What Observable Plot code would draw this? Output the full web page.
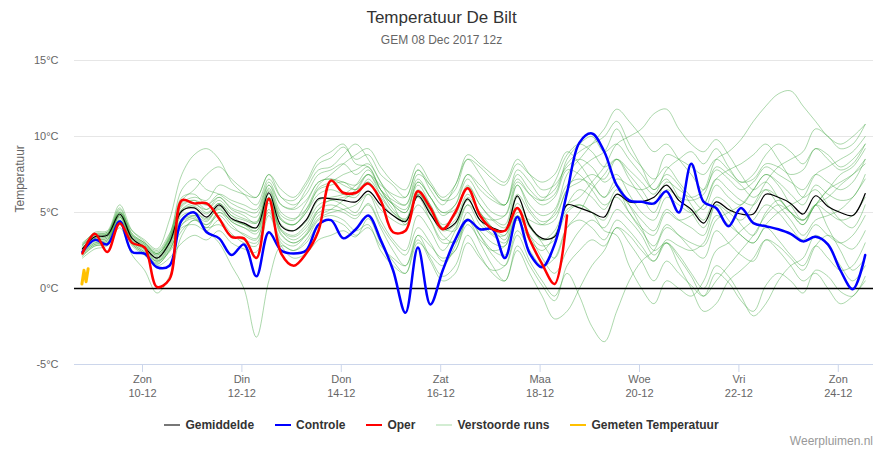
<!DOCTYPE html>
<html><head><meta charset="utf-8">
<script src="https://cdn.jsdelivr.net/npm/d3@7"></script>
<script src="https://cdn.jsdelivr.net/npm/@observablehq/plot@0.6"></script>
<style>
body{margin:0;background:#fff;font-family:"Liberation Sans",Arial,sans-serif;}
#wrap{position:relative;width:883px;height:450px;overflow:hidden;background:#fff}
#chart{position:absolute;top:0;left:0}
#title{position:absolute;top:8px;left:0;width:883px;text-align:center;font-size:17px;color:#333}
#sub{position:absolute;top:33px;left:0;width:883px;text-align:center;font-size:12px;color:#666}
#legend{position:absolute;top:418px;left:0;width:883px;display:flex;justify-content:center;gap:21px;font-size:12px;font-weight:bold;color:#333}
.item{display:flex;align-items:center}
.sw{width:16px;height:2px;margin-right:5px}
#credit{position:absolute;right:10px;top:434px;font-size:12px;color:#999}
</style>
</head><body>
<div id="wrap">
  <div id="chart"></div>
  <div id="title">Temperatuur De Bilt</div>
  <div id="sub">GEM 08 Dec 2017 12z</div>
  <div id="legend"></div>
  <div id="credit">Weerpluimen.nl</div>
</div>
<script>
// ---------- data ----------
const runStart = "2017-12-08T19:00:00Z"; // first forecast step (local time, shown as UTC)
const stepHours = 6;
const xDomain = ["2017-12-08T15:10:00Z", "2017-12-24T17:00:00Z"];

const tickDates = ["2017-12-10","2017-12-12","2017-12-14","2017-12-16","2017-12-18","2017-12-20","2017-12-22","2017-12-24"];
const tickDays  = ["Zon","Din","Don","Zat","Maa","Woe","Vri","Zon"];
const tickLabels = ["10-12","12-12","14-12","16-12","18-12","20-12","22-12","24-12"];
const yTicks = [-5, 0, 5, 10, 15];
const yGrid = [5, 10, 15];

const gemiddelde = [2.6,3.4,3.5,4.9,3.3,2.7,2.0,3.0,5.1,5.3,4.7,5.5,4.6,4.3,4.0,6.3,4.1,3.8,4.5,5.9,
  5.9,5.8,5.7,6.4,5.5,4.8,4.4,6.1,4.9,3.9,4.3,5.9,4.5,4.0,3.8,6.1,4.1,3.3,3.4,5.5,
  5.3,5.0,4.7,6.2,5.7,5.7,6.0,6.8,5.8,5.2,4.3,5.7,5.2,4.9,4.9,6.2,6.0,5.6,4.9,6.1,5.4,5.0,4.8,6.25];

const controle = [2.4,3.2,2.9,4.4,2.4,2.3,1.4,1.5,4.5,5.0,3.7,3.3,2.2,2.9,0.8,3.7,2.5,2.3,2.5,4.2,
  4.5,3.3,3.9,4.8,3.2,1.2,-1.6,2.7,-1.05,1.2,3.2,4.5,3.9,3.9,2.0,4.7,2.3,1.4,2.9,6.3,
  9.6,10.2,9.0,6.8,5.8,5.7,5.6,6.4,5.0,8.2,5.7,5.3,4.1,5.3,4.3,4.1,3.9,3.6,3.1,3.4,2.9,1.2,-0.05,2.2];

const oper = [2.3,3.6,2.4,4.3,3.0,2.7,0.1,0.6,5.8,5.6,5.6,4.6,3.4,3.3,2.0,5.9,2.3,1.5,2.3,3.8,
  7.1,6.3,6.3,6.9,5.8,3.7,3.8,6.4,5.3,3.9,5.0,6.6,4.8,3.9,3.8,5.3,3.2,1.6,0.3,4.8];

const gemetenTijd = ["2017-12-08T18:45:00Z","2017-12-08T19:45:00Z","2017-12-08T20:45:00Z","2017-12-08T21:45:00Z"];
const gemetenTemp = [0.3, 1.2, 0.45, 1.3];

const m1 = [2.8,3.6,3.7,5.3,3.6,3.0,2.3,3.4,6.0,6.2,5.5,6.0,5.2,4.8,4.3,6.6,4.8,4.5,5.6,7.0,7.2,6.8,6.5,7.0,6.0,5.0,4.6,6.5,5.5,4.2,4.8,6.7,5.5,4.6,4.2,6.8,5.2,4.4,4.8,6.5,7.8,8.5,9.0,10.5,9.0,8.0,7.2,8.0,7.0,6.0,5.2,6.8,6.0,5.5,6.5,7.5,7.0,6.2,5.5,6.8,6.2,5.8,6.0,7.5];
const m2 = [2.2,2.9,3.0,4.2,2.8,2.2,1.5,2.0,3.0,3.5,3.2,3.8,3.0,2.6,2.4,4.8,2.8,2.0,2.3,3.2,3.5,3.8,3.4,4.6,3.0,1.8,1.0,3.5,2.0,0.8,1.5,3.5,2.2,1.0,0.5,2.8,1.5,0.2,-0.8,1.5,2.5,3.2,2.8,4.0,3.0,1.8,0.5,1.8,1.0,0.2,-0.5,1.0,0.4,-0.8,-1.5,0.2,1.0,0.5,-0.3,1.2,0.8,-0.2,-0.5,0.8];
const m3 = [2.5,3.3,3.6,5.0,3.8,3.2,2.6,4.5,7.5,8.8,9.2,8.5,7.0,6.2,5.5,7.2,6.0,5.8,6.8,8.2,8.6,9.3,8.5,8.8,7.5,6.8,6.0,7.8,6.5,5.5,6.8,8.5,7.5,6.2,5.5,7.8,7.0,6.0,6.5,8.2,9.0,9.5,10.0,11.0,9.5,8.0,6.5,7.5,6.8,5.5,4.5,6.0,5.5,4.2,3.5,5.0,5.8,5.0,4.2,5.5,6.0,6.8,7.5,8.5];
const m4 = [2.4,3.1,3.2,4.5,3.0,2.4,1.6,2.5,4.2,4.6,3.8,3.0,1.5,0.0,-3.2,0.5,2.8,2.5,3.2,4.5,4.8,4.5,3.8,4.2,2.5,1.5,1.0,3.0,2.2,1.5,2.8,4.6,3.5,2.5,2.2,4.5,3.2,2.5,3.5,5.5,6.5,6.0,5.2,6.5,5.0,3.8,2.8,4.2,3.5,2.6,2.0,3.8,3.0,2.2,1.8,3.2,2.8,2.0,1.2,2.8,3.5,3.0,2.6,3.8];
const m5 = [2.0,2.6,2.8,4.0,2.2,1.2,-0.3,0.8,3.5,4.5,4.0,5.0,4.2,3.5,3.2,5.8,3.6,3.0,3.6,5.2,5.8,5.5,5.0,6.2,4.5,3.2,2.5,4.8,3.8,2.5,3.8,6.0,5.0,4.0,3.2,5.6,4.2,3.0,2.0,4.0,5.0,6.5,7.5,8.5,7.8,7.0,6.2,7.8,8.5,9.0,8.2,9.2,8.0,7.0,7.5,8.8,9.5,9.0,8.2,9.2,8.5,7.8,8.2,9.5];
const m6 = [2.7,3.4,3.5,5.0,3.5,3.0,2.4,3.5,6.5,7.2,6.5,6.2,5.6,5.2,5.0,6.8,5.5,5.3,6.5,7.8,8.0,8.8,9.5,8.5,7.0,5.5,4.2,5.5,4.5,3.2,4.0,5.5,4.2,3.5,3.0,4.8,3.5,2.0,1.0,2.5,3.8,4.5,4.0,5.2,4.5,3.5,2.2,3.0,2.0,0.8,-0.5,0.5,1.5,2.5,3.5,4.8,5.5,5.0,4.5,5.5,4.0,2.5,1.2,2.0];
const m7 = [2.9,3.7,3.8,5.5,3.8,3.1,2.5,3.6,5.5,5.8,5.2,5.8,5.0,4.6,4.4,6.5,4.6,4.2,5.0,6.2,6.5,6.2,6.0,7.2,6.2,5.6,5.2,7.0,6.0,5.0,5.5,7.2,6.0,5.0,4.8,6.8,5.5,4.8,5.2,7.5,8.5,9.5,10.5,11.8,11.0,10.0,9.0,9.5,8.5,7.5,6.5,7.8,7.2,6.5,7.0,8.0,7.5,7.0,6.5,7.5,7.0,6.5,7.0,8.5];
const m8 = [2.3,3.0,3.1,4.6,3.1,2.5,1.8,2.8,4.5,4.8,4.2,4.8,4.0,3.6,3.3,5.6,3.5,3.0,3.5,4.6,5.0,5.2,5.5,6.2,5.2,4.5,4.2,6.2,5.0,3.8,4.2,5.8,4.5,3.6,3.5,6.0,4.2,3.2,3.5,5.2,5.5,5.0,4.5,6.2,5.5,4.5,3.8,5.2,4.5,4.0,3.5,5.5,5.0,4.5,5.5,7.0,8.0,8.5,9.0,10.5,10.0,9.2,9.5,10.8];
const m9 = [2.6,3.3,3.4,4.8,3.2,2.6,1.9,2.9,4.8,5.0,4.5,5.3,4.4,4.0,3.8,6.0,3.9,3.5,4.2,5.5,5.8,6.0,6.2,7.0,5.8,4.8,4.5,6.3,5.0,3.5,3.0,4.5,3.0,1.5,0.5,2.5,1.0,-0.5,-2.0,-1.5,0.0,1.5,2.5,4.0,3.5,2.5,1.8,3.0,2.2,1.0,0.0,1.5,0.8,-0.5,-1.8,-1.0,0.5,1.5,2.0,3.5,2.8,1.5,0.5,1.5];
const m10 = [2.5,3.2,3.3,4.7,3.1,2.6,2.0,3.0,5.0,5.5,5.2,6.0,5.3,5.0,4.7,6.8,5.0,4.6,5.2,6.5,6.8,7.0,6.5,7.5,6.2,5.0,4.4,6.0,4.5,3.0,3.2,5.0,3.5,2.2,1.5,3.5,1.8,0.5,-0.5,1.0,-0.5,-2.5,-3.5,-1.5,0.5,1.8,2.5,4.0,3.5,3.0,2.8,4.5,5.0,5.5,6.5,7.5,6.8,5.5,4.5,5.5,6.5,7.0,7.5,8.2];
const m11 = [2.8,3.5,3.6,5.1,3.4,2.8,2.1,3.1,5.2,5.4,4.9,5.6,4.8,4.5,4.3,6.4,4.5,4.2,5.0,6.6,7.0,7.5,7.8,8.2,7.0,6.0,5.5,7.2,6.0,5.0,5.2,6.8,5.5,4.5,4.0,6.2,5.0,4.2,4.5,6.5,7.0,7.5,7.2,8.5,7.5,6.5,5.5,7.0,6.5,6.0,6.5,8.5,9.0,9.8,11.0,12.0,12.8,13.0,12.0,11.0,10.0,9.5,10.0,10.8];
const m12 = [2.1,2.8,2.9,4.3,2.9,2.3,1.7,2.6,4.0,4.2,3.8,4.5,3.6,3.0,2.8,5.2,3.2,2.8,3.5,4.8,5.2,5.8,6.5,7.5,6.8,6.2,6.0,7.8,6.8,5.8,6.0,7.5,6.5,5.8,5.5,7.2,6.2,5.5,6.0,7.8,7.5,6.5,5.5,6.0,5.0,4.0,3.5,5.0,4.5,4.8,5.5,7.2,7.8,8.2,8.8,9.5,8.5,7.2,6.0,6.5,5.5,4.5,4.0,5.5];
const m13 = [2.6,3.4,3.5,4.9,3.3,2.7,2.0,3.2,5.8,6.5,7.5,8.0,7.2,6.5,6.0,7.5,6.0,5.5,6.2,7.5,7.8,8.2,7.5,8.0,6.5,5.5,5.0,7.0,6.0,4.8,5.5,7.5,6.8,6.0,5.5,7.5,6.5,5.8,6.2,8.5,9.5,10.0,9.0,9.5,8.5,7.5,6.5,7.2,6.0,5.0,4.0,5.5,4.5,3.5,3.0,4.2,5.0,5.5,6.0,7.5,8.0,8.5,9.0,10.0];
const m14 = [2.4,3.0,3.2,4.7,3.2,2.6,1.8,2.4,3.8,4.5,4.2,5.0,4.5,4.2,4.0,6.0,4.2,3.8,4.4,5.8,6.0,6.2,6.8,7.8,6.5,5.5,5.0,6.8,5.5,4.0,3.8,5.5,4.8,4.5,4.8,7.0,6.2,5.8,7.0,8.8,9.5,9.0,8.0,8.5,7.2,6.0,5.0,6.5,6.0,5.8,6.2,8.0,7.5,6.8,6.0,6.5,5.5,4.5,3.5,4.5,4.8,5.2,6.0,7.2];
const m15 = [3.0,3.6,3.7,5.2,3.6,3.0,2.3,3.2,5.2,5.6,5.0,5.6,4.8,4.2,3.8,5.8,3.8,3.2,3.8,5.0,5.2,5.0,4.6,5.6,4.2,3.0,2.2,4.0,3.0,1.8,2.5,4.2,3.2,2.5,2.8,5.0,4.5,4.2,5.0,6.8,7.2,6.8,6.0,6.8,5.5,4.0,2.5,3.0,1.5,0.0,-1.5,-1.0,0.5,1.2,2.0,3.2,2.5,1.5,0.5,1.0,0.0,-1.0,-0.5,0.5];
const m16 = [2.2,2.8,3.0,4.4,2.9,2.3,1.6,2.5,4.2,4.8,4.4,5.4,4.6,4.2,4.0,6.2,4.5,4.2,5.2,6.8,7.5,8.2,8.8,9.2,8.0,7.0,6.5,8.2,7.0,6.0,6.8,8.8,8.2,7.5,7.0,8.5,7.5,6.5,6.8,8.0,8.5,8.0,7.0,7.5,6.2,5.0,4.5,6.0,5.5,5.0,5.5,7.2,6.5,5.8,5.5,6.5,6.0,5.0,4.2,5.5,5.0,4.5,4.8,6.0];
const m17 = [2.7,3.3,3.4,4.8,3.3,2.8,2.2,3.0,4.6,5.0,4.6,5.2,4.4,4.0,3.6,5.8,3.8,3.4,4.0,5.2,5.5,5.2,4.8,5.5,4.0,2.5,1.5,3.2,1.8,0.5,1.0,3.0,2.0,1.2,1.5,3.8,2.5,1.5,2.0,4.0,4.5,4.0,3.2,4.5,3.8,2.8,1.8,3.2,2.8,2.5,3.0,4.8,4.2,3.5,3.0,4.0,3.2,2.2,1.5,2.8,2.0,1.2,1.5,3.0];
const m18 = [2.5,3.2,3.3,4.8,3.4,2.9,2.3,3.3,5.4,5.8,5.5,6.2,5.8,5.5,5.2,7.0,5.5,5.2,5.8,7.0,7.2,7.0,6.8,7.5,6.5,5.8,5.5,7.5,6.8,5.8,6.5,8.5,8.0,7.2,6.8,8.2,7.5,7.0,7.5,9.0,8.2,7.0,6.0,7.2,6.8,6.5,7.0,8.8,8.5,8.0,7.5,8.5,7.8,7.0,7.2,8.2,8.0,7.5,7.8,9.2,8.8,8.0,8.5,9.5];
const m19 = [2.3,2.9,3.1,4.5,3.0,2.4,1.8,2.7,4.4,4.7,4.0,4.2,3.5,3.2,3.0,5.0,3.0,2.5,3.0,4.2,4.5,4.2,3.5,4.0,2.8,2.0,1.5,3.5,2.8,2.0,2.5,4.5,3.8,3.0,2.8,4.8,3.5,2.8,3.2,5.0,5.5,5.0,3.8,3.5,1.5,0.0,-1.0,0.5,0.0,-0.5,0.5,2.5,3.0,3.8,4.5,5.5,5.0,4.0,3.2,4.2,3.5,3.0,3.5,4.8];
const m20 = [2.9,3.5,3.6,5.0,3.5,2.9,2.2,3.3,5.6,6.0,5.8,6.8,6.5,6.2,6.0,7.5,6.5,6.0,7.0,8.5,9.0,9.5,8.2,8.0,6.5,5.2,4.5,6.2,5.2,4.0,4.5,6.2,5.0,4.0,3.5,5.2,4.0,3.2,3.8,5.5,6.0,7.0,8.0,9.5,10.0,10.5,11.5,11.8,10.5,9.5,9.0,9.8,8.8,7.5,6.5,7.0,6.0,5.0,4.5,5.5,6.5,7.5,8.0,9.2];
const verstoordeRuns = [m1,m2,m3,m4,m5,m6,m7,m8,m9,m10,m11,m12,m13,m14,m15,m16,m17,m18,m19,m20];

// ---------- build tables ----------
const t0 = new Date(runStart).getTime();
const timeAt = i => new Date(t0 + i * stepHours * 3600 * 1000);
const series = arr => arr.map((v, i) => ({t: timeAt(i), v}));
const memberRows = verstoordeRuns.flatMap((arr, m) => arr.map((v, i) => ({t: timeAt(i), v, m})));
const gemetenRows = gemetenTijd.map((s, i) => ({t: new Date(s), v: gemetenTemp[i]}));
const tickTimes = tickDates.map(s => new Date(s + "T00:00:00Z"));
const tickText = new Map(tickTimes.map((d, i) => [+d, tickDays[i] + "\n" + tickLabels[i]]));

const curve = "catmull-rom";
const chart = Plot.plot({
  width: 883, height: 450,
  marginTop: 60, marginBottom: 86, marginLeft: 74, marginRight: 10,
  style: {fontFamily: "Liberation Sans, Arial, sans-serif", fontSize: "11px", background: "transparent"},
  x: {type: "utc", domain: xDomain.map(s => new Date(s))},
  y: {domain: [-5, 15]},
  marks: [
    Plot.gridY(yGrid, {stroke: "#e6e6e6", strokeOpacity: 1}),
    Plot.ruleY([-5], {stroke: "#ccd6eb"}),
    Plot.axisY({ticks: yTicks, tickSize: 0, tickPadding: 16, tickFormat: d => `${d}°C`, color: "#666", label: null}),
    Plot.axisX({ticks: tickTimes, tickSize: 8, tickFormat: () => "", color: "#ccd6eb", label: null}),
    Plot.axisX({ticks: tickTimes, tickSize: 0, tickPadding: 9, tickFormat: d => tickText.get(+d), color: "#666", lineHeight: 1.27, label: null}),
    Plot.text(["Temperatuur"], {frameAnchor: "left", dx: -54, rotate: -90, fill: "#666", fontSize: 12}),
    Plot.line(memberRows, {x: "t", y: "v", z: "m", stroke: "#2f9e2f", strokeOpacity: 0.4, strokeWidth: 1, curve}),
    Plot.ruleY([0], {stroke: "#000", strokeWidth: 1.5}),
    Plot.line(series(gemiddelde), {x: "t", y: "v", stroke: "#000", strokeWidth: 1.2, curve}),
    Plot.line(series(controle), {x: "t", y: "v", stroke: "#0000ff", strokeWidth: 2.5, curve}),
    Plot.line(series(oper), {x: "t", y: "v", stroke: "#ff0000", strokeWidth: 2.5, curve}),
    Plot.line(gemetenRows, {x: "t", y: "v", stroke: "#ffc000", strokeWidth: 3, curve: "linear"})
  ]
});
document.getElementById("chart").appendChild(chart);

// ---------- legend ----------
const legendNames = ["Gemiddelde", "Controle", "Oper", "Verstoorde runs", "Gemeten Temperatuur"];
const legendColors = ["#777777", "#0000ff", "#ff0000", "#d3edd3", "#ffc000"];
const lg = document.getElementById("legend");
legendNames.forEach((n, i) => {
  const it = document.createElement("div"); it.className = "item";
  const sw = document.createElement("div"); sw.className = "sw"; sw.style.background = legendColors[i];
  const tx = document.createElement("span"); tx.textContent = n;
  it.appendChild(sw); it.appendChild(tx); lg.appendChild(it);
});
</script>
</body></html>
